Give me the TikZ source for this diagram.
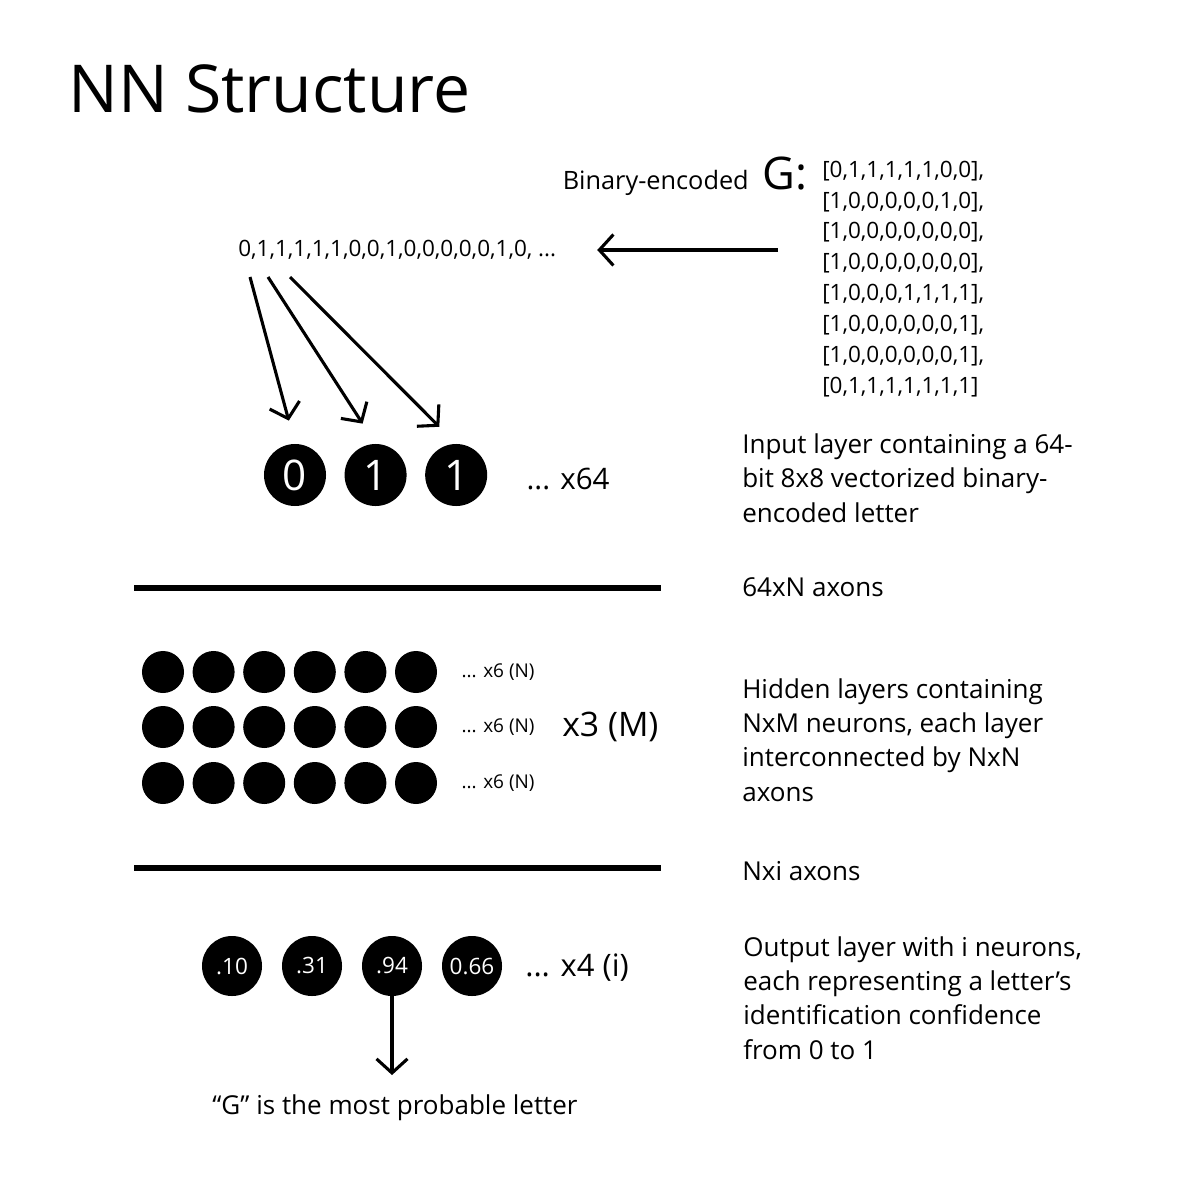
\documentclass[tikz,border=0pt]{standalone}
\usepackage{fontspec}
\setmainfont{Open Sans}
\usetikzlibrary{positioning}
\usetikzlibrary{arrows.meta}
\tikzset{
  flecha/.style={
    line width=2.2pt,
    -{Straight Barb[length=10pt,width=22pt,line width=2.2pt]}
  }
}

\begin{document}
\begin{tikzpicture}[x=0.025cm, y=-0.025cm, node distance=0.45cm] % Estilos
\tikzstyle{texto} = [inner sep=0pt, align=left, anchor=west]
\tikzstyle{cuerpo} = [texto, font=\fontsize{18.5}{24.5}\selectfont]
\tikzstyle{neurona} = [circle, fill=black, text=white, inner sep=0pt]
\useasboundingbox (0,0) rectangle (1200,1200);
% Titulo
\node (titulo) [texto, anchor=base west, font=\fontsize{47}{56}\selectfont] at (68,113) {NN Structure};
% Letra codificada en binario
\node (letra) [texto, anchor=base east, font=\fontsize{32}{36}\selectfont] at (808,190) {G:};
\node (binario) [texto, anchor=base east, font=\fontsize{18}{20}\selectfont] at (749,190) {Binary-encoded};
\node (matriz) [texto, font=\fontsize{16}{22}\selectfont] at (822,279) {{[}0,1,1,1,1,1,0,0],\\{[}1,0,0,0,0,0,1,0],\\{[}1,0,0,0,0,0,0,0],\\{[}1,0,0,0,0,0,0,0],\\{[}1,0,0,0,1,1,1,1],\\{[}1,0,0,0,0,0,0,1],\\{[}1,0,0,0,0,0,0,1],\\{[}0,1,1,1,1,1,1,1]};
\node (secuencia) [texto, font=\fontsize{16}{18}\selectfont] at (238,250) {0,1,1,1,1,1,0,0,1,0,0,0,0,0,1,0, ...};
\coordinate (origen) at (778,250);
\draw[flecha, shorten >=29pt] (origen) -- (secuencia.east);
% Capa de entrada
\node (e1) [neurona, minimum size=1.55cm, font=\fontsize{30}{34}\selectfont] at (295,475) {0};
\node (e2) [neurona, minimum size=1.55cm, font=\fontsize{30}{34}\selectfont, right=of e1] {1};
\node (e3) [neurona, minimum size=1.55cm, font=\fontsize{30}{34}\selectfont, right=of e2] {1};
\node (n64) [texto, font=\fontsize{21}{24}\selectfont, right=0.97cm of e3, yshift=-3pt] {... x64};
\coordinate (s1) at (250,277); \coordinate (s2) at (268,277); \coordinate (s3) at (290,277);
\foreach \i in {1,2,3}{ \draw[flecha, shorten >=17pt] (s\i) -- (e\i.north); }
\node (entrada) [cuerpo] at (742,478) {Input layer containing a 64-\\bit 8x8 vectorized binary-\\encoded letter};
% Axones de entrada
\draw[line width=4.3pt] (134,588) -- (661,588);
\node (axones1) [cuerpo] at (742,587) {64xN axons};
% Capas ocultas
\foreach \f/\yy in {1/672,2/727,3/783}{
  \foreach \c in {1,...,6}{ \node (h\f\c) [neurona, minimum size=1.05cm] at ({163+50.6*(\c-1)},\yy) {}; }
  \node (r\f) [texto, font=\fontsize{13.5}{16}\selectfont, right=0.6cm of h\f6] {... x6 (N)};
}
\node (m3) [texto, font=\fontsize{24}{28}\selectfont] at (562,727) {x3 (M)};
\node (ocultas) [cuerpo] at (742,740) {Hidden layers containing\\NxM neurons, each layer\\interconnected by NxN\\axons};
% Axones de salida
\draw[line width=4.3pt] (134,868) -- (661,868);
\node (axones2) [cuerpo] at (742,871) {Nxi axons};
% Capa de salida
\foreach \i/\v in {1/.10,2/.31,3/.94,4/0.66}{
  \node (o\i) [neurona, minimum size=1.5cm, font=\fontsize{16}{18}\selectfont] at ({232+80*(\i-1)},966) {\v};
}
\node (n4) [texto, font=\fontsize{22}{26}\selectfont] at (525,968) {... x4 (i)};
\node (conclusion) [texto, anchor=center, font=\fontsize{18.5}{21}\selectfont] at (395,1108) {“G” is the most probable letter};
\draw[flecha, shorten >=14pt] (o3.south) -- (o3.south |- conclusion.north);
\node (salida) [cuerpo] at (743,998) {Output layer with i neurons,\\each representing a letter’s\\identification confidence\\from 0 to 1};
\end{tikzpicture}
\end{document}
